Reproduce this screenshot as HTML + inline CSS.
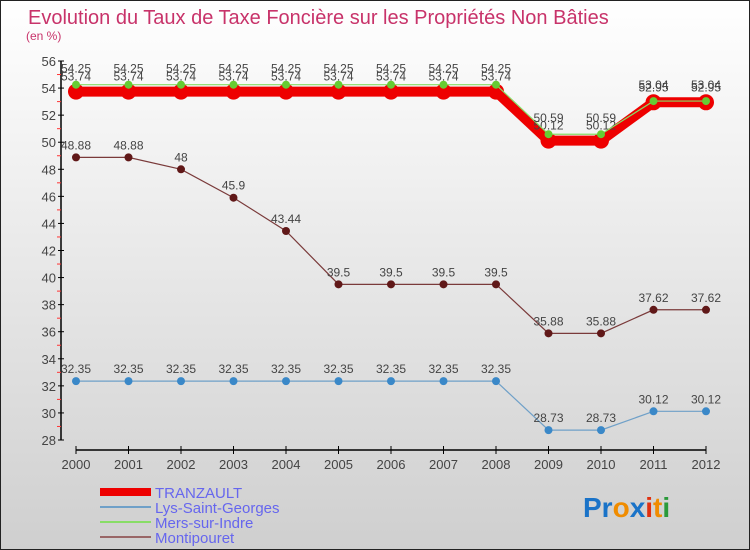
<!DOCTYPE html>
<html><head><meta charset="utf-8"><style>
body{margin:0;width:750px;height:550px;overflow:hidden;font-family:"Liberation Sans",sans-serif}
svg{display:block}
</style></head><body>
<svg id="chart" width="750" height="550" xmlns="http://www.w3.org/2000/svg">
<defs><linearGradient id="bg" x1="0" y1="0" x2="0" y2="1"><stop offset="0" stop-color="#ffffff"/><stop offset="1" stop-color="#cfcfcf"/></linearGradient></defs>
<rect x="0.5" y="0.5" width="749" height="549" fill="url(#bg)" stroke="#222"/>
<text x="28" y="24" font-size="20" fill="#c8336a">Evolution du Taux de Taxe Foncière sur les Propriétés Non Bâties</text>
<text x="26" y="40" font-size="12" fill="#c8336a">(en %)</text>
<g id="axes"></g><g id="series"></g><g id="legend"></g>
<text x="583" y="517" font-size="28" font-weight="bold"><tspan fill="#1a73c8">Pr</tspan><tspan fill="#f08c00">o</tspan><tspan fill="#1a73c8">x</tspan><tspan fill="#e03010">i</tspan><tspan fill="#f08c00">t</tspan><tspan fill="#2a9a3a">i</tspan></text>
</svg>
<script>
const years=[2000,2001,2002,2003,2004,2005,2006,2007,2008,2009,2010,2011,2012];
const yTicks=[28,30,32,34,36,38,40,42,44,46,48,50,52,54,56];
const tranzault=[53.74,53.74,53.74,53.74,53.74,53.74,53.74,53.74,53.74,50.12,50.12,52.95,52.95];
const lys=[32.35,32.35,32.35,32.35,32.35,32.35,32.35,32.35,32.35,28.73,28.73,30.12,30.12];
const mers=[54.25,54.25,54.25,54.25,54.25,54.25,54.25,54.25,54.25,50.59,50.59,53.04,53.04];
const montip=[48.88,48.88,48.00,45.90,43.44,39.50,39.50,39.50,39.50,35.88,35.88,37.62,37.62];
const NS='http://www.w3.org/2000/svg';
const X=i=>76+i*52.5;
const Y=v=>61+(56-v)*(379/28);
function mk(t,a,p){const e=document.createElementNS(NS,t);for(const k in a)e.setAttribute(k,a[k]);p.appendChild(e);return e;}
const ax=document.getElementById('axes');
let yl=mk('line',{x1:61,y1:61,x2:61,y2:440,stroke:'#000','stroke-width':1.5},ax);


let xl=mk('line',{x1:76,y1:450,x2:706,y2:450,stroke:'#000','stroke-width':1.5},ax);


yTicks.forEach(v=>{
 mk('line',{x1:58,y1:Y(v),x2:64,y2:Y(v),stroke:'#000'},ax);
 if(v<56)mk('line',{x1:57,y1:Y(v+1),x2:61,y2:Y(v+1),stroke:'#f33'},ax);
 const t=mk('text',{x:56,y:Y(v)+5,'text-anchor':'end','font-size':13,fill:'#444'},ax);
 t.textContent=v;
 
 
});
years.forEach((yr,i)=>{
 mk('line',{x1:X(i),y1:446,x2:X(i),y2:454,stroke:'#000'},ax);
 const t=mk('text',{x:X(i),y:469,'text-anchor':'middle','font-size':13,fill:'#444'},ax);
 t.textContent=yr;
 
 
});
const sg=document.getElementById('series');
function series(vals,name,color,w,r,dot,loff){
 const g=mk('g',{},sg);
 
 
 mk('polyline',{points:vals.map((v,i)=>X(i)+','+Y(v)).join(' '),fill:'none',stroke:color,'stroke-width':w},g);
 vals.forEach((v,i)=>{
  const c=mk('circle',{cx:X(i),cy:Y(v),r:r,fill:dot},g);
  
  
  const t=mk('text',{x:X(i),y:Y(v)+loff,'text-anchor':'middle','font-size':12,fill:'#444'},g);
  t.textContent=String(v%1===0?v:v.toFixed(2)).replace(/0$/,'');
  
  
 });
}
series(montip,'montipouret','#7a3a3a',1.2,4,'#601818',-8);
series(lys,'lys-saint-georges','#6fa0c8',1.2,4,'#3a88c8',-8);
series(tranzault,'tranzault','#ee0000',10,8,'#ee0000',-11);
series(mers,'mers-sur-indre','#88dd66',1.2,4,'#66cc33',-12);
const lg=document.getElementById('legend');
[['TRANZAULT','#ee0000',8],['Lys-Saint-Georges','#6fa0c8',2],['Mers-sur-Indre','#88dd66',2],['Montipouret','#996666',2]].forEach((d,i)=>{
 const y=492+i*15;
 const g=mk('g',{},lg);
 
 
 mk('line',{x1:100,y1:y,x2:151,y2:y,stroke:d[1],'stroke-width':d[2]},g);
 const t=mk('text',{x:155,y:y+6,'font-size':15,fill:'#6666ee'},g);
 t.textContent=d[0];
});
</script>
</body></html>
